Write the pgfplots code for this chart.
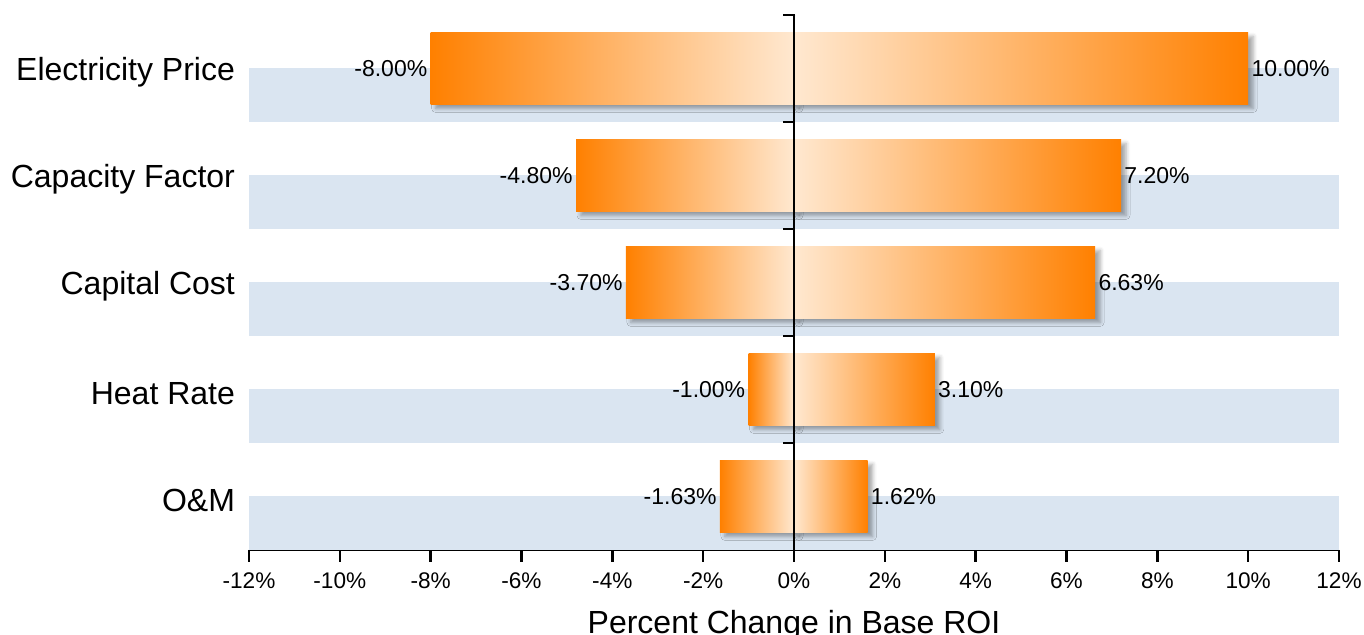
\documentclass[border=0pt]{standalone}
\usepackage{fontspec}
\setmainfont{Liberation Sans}
\usepackage{pgfplots}
\pgfplotsset{compat=1.18}
\usepackage{pgfplotstable}
\usetikzlibrary{shadows.blur}
\definecolor{stripe}{RGB}{218,229,241}
\definecolor{orD}{RGB}{255,128,0}
\definecolor{orL}{RGB}{255,232,208}

\pgfplotstableread{
x y lab
-8.00 4 -8.00
-4.80 3 -4.80
-3.70 2 -3.70
-1.00 1 -1.00
-1.63 0 -1.63
}\lowtab
\pgfplotstableread{
x y lab
10.00 4 10.00
7.20 3 7.20
6.63 2 6.63
3.10 1 3.10
1.62 0 1.62
}\hightab

\begin{document}
\begin{tikzpicture}
\begin{axis}[name=ax, at={(0,0)}, anchor=south west,
  scale only axis, width=545pt, height=267.5pt,
  xmin=-12, xmax=12, ymin=-0.5, ymax=4.5,
  axis x line=bottom, axis y line=left,
  x axis line style={-, line width=1.3pt},
  y axis line style={draw=none},
  xtick={-12,-10,...,12},
  xticklabels={-12\%,-10\%,-8\%,-6\%,-4\%,-2\%,0\%,2\%,4\%,6\%,8\%,10\%,12\%},
  xtick align=outside, major tick length=6pt,
  xtick style={line width=1.3pt, black},
  ytick={0,1,2,3,4},
  yticklabels={O\&M,Heat Rate,Capital Cost,Capacity Factor,Electricity Price},
  ytick style={draw=none},
  yticklabel style={font=\fontsize{16}{19}\selectfont, xshift=-0.5pt, yshift=-2pt},
  xticklabel style={font=\fontsize{11.3}{13}\selectfont, yshift=-2pt},
  xlabel={Percent Change in Base ROI},
  xlabel style={font=\fontsize{16}{19}\selectfont, at={(axis description cs:0.5,0)}, anchor=base, yshift=-42pt},
  clip=false,
]
% background stripes
\addplot[fill=stripe, draw=none] coordinates {(-12,-0.5) (12,-0.5) (12,0) (-12,0)} -- cycle;
\addplot[fill=stripe, draw=none] coordinates {(-12,0.5) (12,0.5) (12,1) (-12,1)} -- cycle;
\addplot[fill=stripe, draw=none] coordinates {(-12,1.5) (12,1.5) (12,2) (-12,2)} -- cycle;
\addplot[fill=stripe, draw=none] coordinates {(-12,2.5) (12,2.5) (12,3) (-12,3)} -- cycle;
\addplot[fill=stripe, draw=none] coordinates {(-12,3.5) (12,3.5) (12,4) (-12,4)} -- cycle;

\pgfplotsset{barshadow/.style={blur shadow={shadow xshift=2.5pt, shadow yshift=-2pt, shadow blur radius=2pt, shadow opacity=35}}}
% Electricity Price
\addplot[draw=none, left color=orD, right color=orL, barshadow] coordinates {(-8,3.664) (0,3.664) (0,4.336) (-8,4.336)} -- cycle;
\addplot[draw=none, left color=orL, right color=orD, barshadow] coordinates {(0,3.664) (10,3.664) (10,4.336) (0,4.336)} -- cycle;
% Capacity Factor
\addplot[draw=none, left color=orD, right color=orL, barshadow] coordinates {(-4.8,2.664) (0,2.664) (0,3.336) (-4.8,3.336)} -- cycle;
\addplot[draw=none, left color=orL, right color=orD, barshadow] coordinates {(0,2.664) (7.2,2.664) (7.2,3.336) (0,3.336)} -- cycle;
% Capital Cost
\addplot[draw=none, left color=orD, right color=orL, barshadow] coordinates {(-3.7,1.664) (0,1.664) (0,2.336) (-3.7,2.336)} -- cycle;
\addplot[draw=none, left color=orL, right color=orD, barshadow] coordinates {(0,1.664) (6.63,1.664) (6.63,2.336) (0,2.336)} -- cycle;
% Heat Rate
\addplot[draw=none, left color=orD, right color=orL, barshadow] coordinates {(-1.0,0.664) (0,0.664) (0,1.336) (-1.0,1.336)} -- cycle;
\addplot[draw=none, left color=orL, right color=orD, barshadow] coordinates {(0,0.664) (3.1,0.664) (3.1,1.336) (0,1.336)} -- cycle;
% O&M
\addplot[draw=none, left color=orD, right color=orL, barshadow] coordinates {(-1.63,-0.336) (0,-0.336) (0,0.336) (-1.63,0.336)} -- cycle;
\addplot[draw=none, left color=orL, right color=orD, barshadow] coordinates {(0,-0.336) (1.62,-0.336) (1.62,0.336) (0,0.336)} -- cycle;

% labels
\addplot[draw=none, mark=none, nodes near coords={\pgfplotspointmeta\%}, point meta=explicit symbolic,
  nodes near coords style={anchor=east, font=\fontsize{11.5}{13}\selectfont, inner sep=1.5pt, text=black}]
  table[x=x, y=y, meta=lab] {\lowtab};
\addplot[draw=none, mark=none, nodes near coords={\pgfplotspointmeta\%}, point meta=explicit symbolic,
  nodes near coords style={anchor=west, font=\fontsize{11.5}{13}\selectfont, inner sep=1.5pt, text=black}]
  table[x=x, y=y, meta=lab] {\hightab};

% centre axis line with ticks
\draw[line width=1.4pt, black] (axis cs:0,-0.5) -- (axis cs:0,4.5);
\draw[line width=1.4pt, black] (axis cs:0,0.5) -- ([xshift=-5.5pt]axis cs:0,0.5);
\draw[line width=1.4pt, black] (axis cs:0,1.5) -- ([xshift=-5.5pt]axis cs:0,1.5);
\draw[line width=1.4pt, black] (axis cs:0,2.5) -- ([xshift=-5.5pt]axis cs:0,2.5);
\draw[line width=1.4pt, black] (axis cs:0,3.5) -- ([xshift=-5.5pt]axis cs:0,3.5);
\draw[line width=1.4pt, black] ([xshift=0.7pt]axis cs:0,4.5) -- ([xshift=-5.5pt]axis cs:0,4.5);
\end{axis}
\pgfresetboundingbox
\path (ax.south west) ++(-124.5pt,-42.5pt) rectangle ++(682pt,317.5pt);
\end{tikzpicture}
\end{document}
